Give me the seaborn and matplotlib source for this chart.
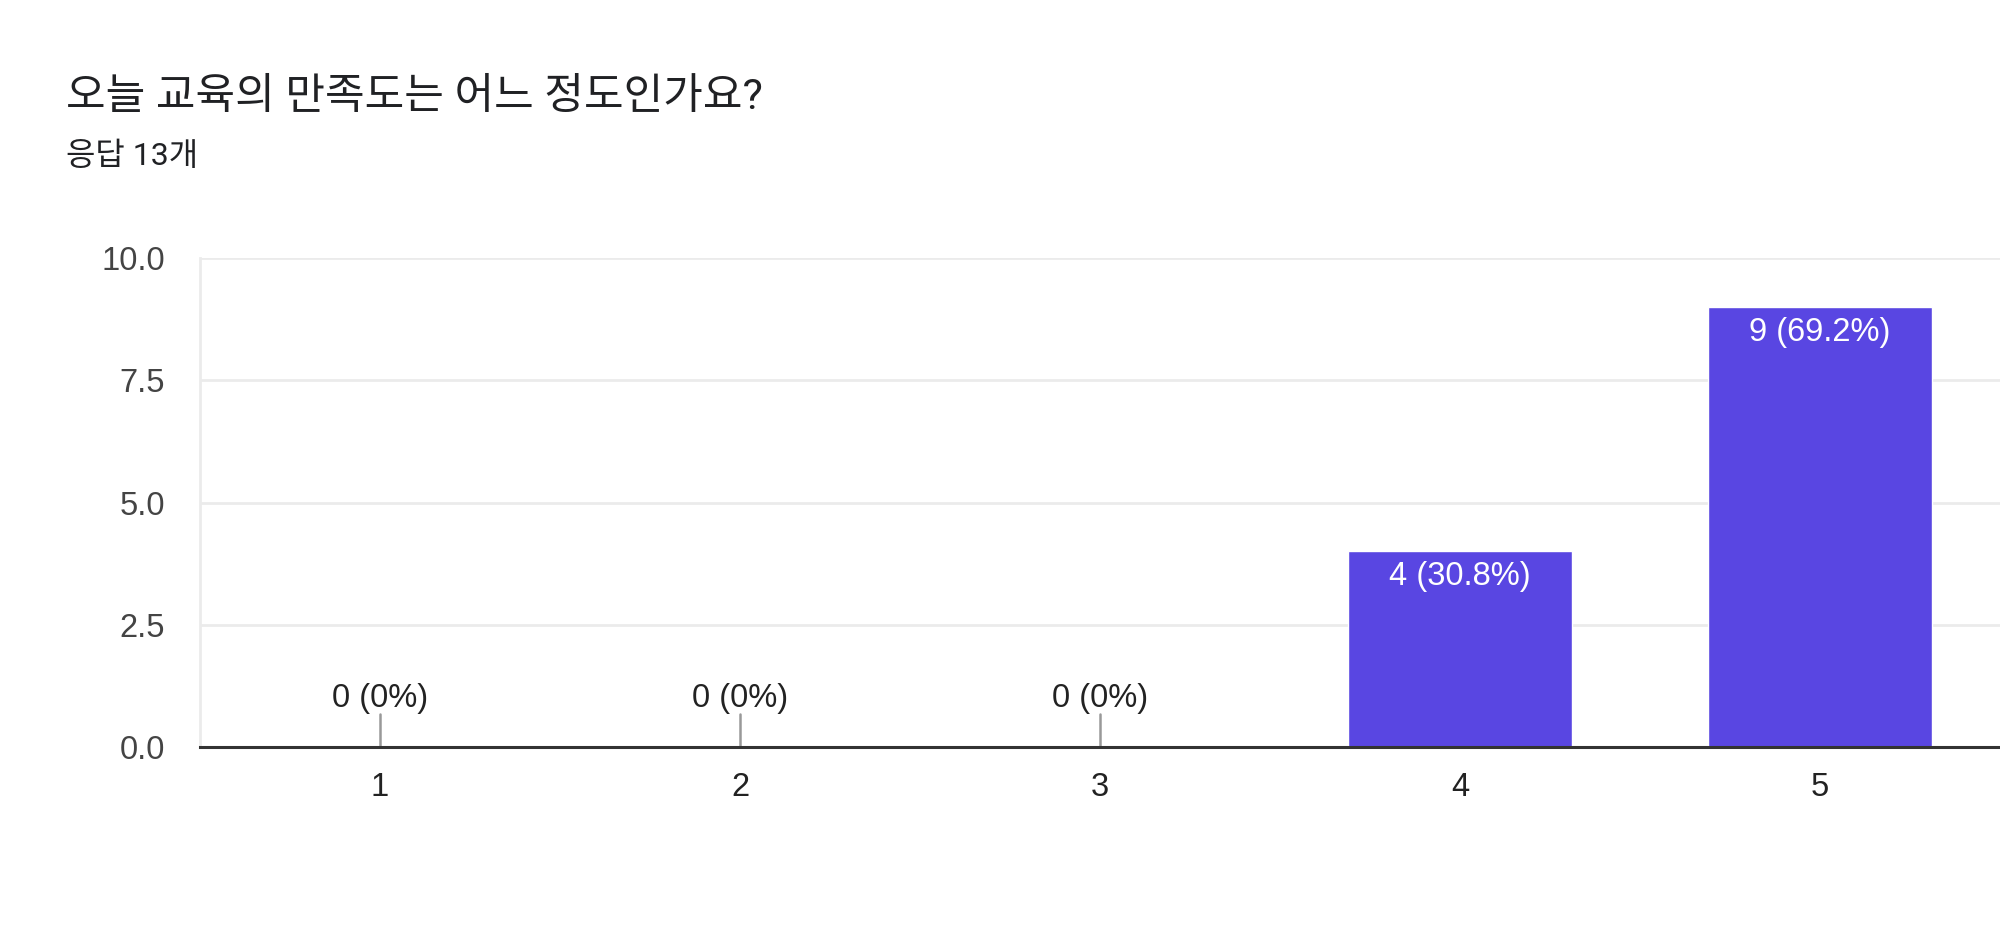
"""Bar chart of a Google Forms style survey result (satisfaction 1-5)"""

import matplotlib
matplotlib.use('Agg')
import matplotlib.pyplot as plt
import seaborn as sns
import pandas as pd

# Data
title = '오늘 교육의 만족도는 어느 정도인가요?'
subtitle = '응답 13개'
categories = ['1', '2', '3', '4', '5']
counts = [0, 0, 0, 4, 9]
bar_labels = ['0 (0%)', '0 (0%)', '0 (0%)', '4 (30.8%)', '9 (69.2%)']
y_ticks = [0.0, 2.5, 5.0, 7.5, 10.0]

BAR_COLOR = '#5946e2'
NUM_FONT = ['Liberation Sans', 'Noto Sans CJK KR', 'DejaVu Sans']
KR_FONT = ['Roboto', 'Noto Sans CJK KR', 'DejaVu Sans']

sns.set_style('white')
plt.rcParams['font.family'] = NUM_FONT

df = pd.DataFrame({'score': categories, 'count': counts})

fig = plt.figure(figsize=(20, 9.51), dpi=100)
ax = fig.add_axes([0.1, 0.2145, 0.9, 0.514])

sns.barplot(data=df, x='score', y='count', color=BAR_COLOR, width=0.62,
            saturation=1, ax=ax, zorder=3)

ax.set_ylim(0, 10)
ax.set_xlim(-0.5, 4.5)
ax.set_yticks(y_ticks)
ax.set_yticklabels([f'{v:.1f}' for v in y_ticks])
ax.yaxis.grid(True, color='#ebebeb', linewidth=2, zorder=0)
ax.xaxis.grid(False)
ax.tick_params(axis='y', length=0, pad=25, labelsize=23.5, labelcolor='#444444')
ax.tick_params(axis='x', length=0, pad=18, labelsize=23.5, labelcolor='#222222')
ax.set_xlabel('')
ax.set_ylabel('')

for side in ['top', 'right']:
    ax.spines[side].set_visible(False)
ax.spines['left'].set_color('#ebebeb')
ax.spines['left'].set_linewidth(2)
ax.spines['bottom'].set_color('#333333')
ax.spines['bottom'].set_linewidth(2.2)
ax.spines['bottom'].set_zorder(5)

# Value labels
for i, (val, lab) in enumerate(zip(counts, bar_labels)):
    if val == 0:
        ax.plot([i, i], [0, 0.68], color='#999999', linewidth=1.8, zorder=4)
        ax.annotate(lab, xy=(i, 0.68), xytext=(0, 0), textcoords='offset points',
                    ha='center', va='bottom', fontsize=23.5, color='#222222')
    else:
        ax.annotate(lab, xy=(i, val), xytext=(0, -7), textcoords='offset points',
                    ha='center', va='top', fontsize=23.5, color='white', zorder=6)

fig.text(0.033, 0.897, title, family=KR_FONT, fontsize=31, color='#202124',
         ha='left', va='center')
fig.text(0.033, 0.836, subtitle, family=KR_FONT, fontsize=23, color='#202124',
         ha='left', va='center')

fig.savefig('out.png', dpi=100, facecolor='white')
